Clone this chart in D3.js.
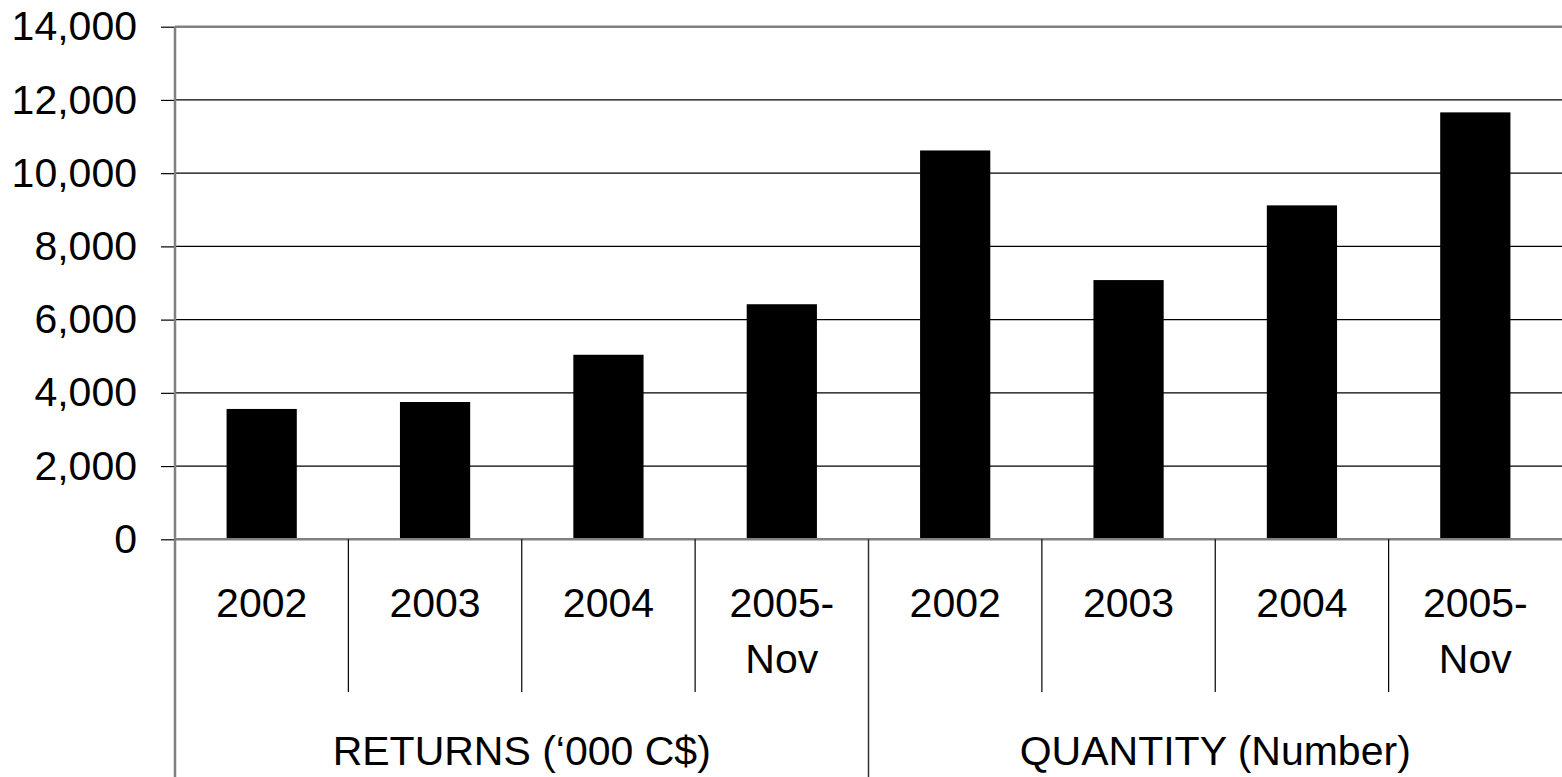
<!DOCTYPE html>
<html>
<head>
<meta charset="utf-8">
<script src="https://cdn.jsdelivr.net/npm/d3@7"></script>
<style>
  html, body { margin: 0; padding: 0; background: #fff; }
  svg { display: block; }
  text { font-family: "Liberation Sans", Arial, sans-serif; fill: #000; }
</style>
</head>
<body>
<svg id="chart" width="1562" height="777"></svg>
<script>
// ---- data ----
const groups = ["RETURNS (\u2018000 C$)", "QUANTITY (Number)"];
const periods = ["2002", "2003", "2004", "2005-Nov"];
const returnsValues = [3560, 3750, 5040, 6420];
const quantityValues = [10620, 7080, 9120, 11660];
const yTicks = [0, 2000, 4000, 6000, 8000, 10000, 12000, 14000];

(function () {
// ---- build rows ----
const seriesByGroup = [returnsValues, quantityValues];
const rows = [];
groups.forEach((g, gi) => {
  periods.forEach((p, pi) => {
    rows.push({ key: gi + "|" + p, group: g, period: p, value: seriesByGroup[gi][pi] });
  });
});

// ---- layout ----
const W = 1562, H = 777;
const mLeft = 175, mRight = 1562, mTop = 26.7, mBottom = 539.3;
const fontSize = 41;

const svg = d3.select("#chart");

const x = d3.scaleBand().domain(rows.map(d => d.key)).range([mLeft, mRight]).padding(0);
const xg = d3.scaleBand().domain(groups).range([mLeft, mRight]).padding(0);
const y = d3.scaleLinear().domain([0, 14000]).range([mBottom, mTop]);

const axisGrey = "#808080";

// gridlines
svg.append("g")
  .selectAll("line")
  .data(yTicks.filter(t => t > 0 && t < 14000))
  .join("line")
  .attr("x1", mLeft).attr("x2", mRight)
  .attr("y1", d => y(d)).attr("y2", d => y(d))
  .attr("stroke", "#000").attr("stroke-width", 1.2);

// top border
svg.append("line")
  .attr("x1", mLeft).attr("x2", mRight)
  .attr("y1", y(14000)).attr("y2", y(14000))
  .attr("stroke", axisGrey).attr("stroke-width", 2.5);

// bars
const barW = x.bandwidth() * 0.405;
svg.append("g")
  .selectAll("rect")
  .data(rows)
  .join("rect")
  .attr("x", d => x(d.key) + (x.bandwidth() - barW) / 2)
  .attr("width", barW)
  .attr("y", d => y(d.value))
  .attr("height", d => y(0) - y(d.value))
  .attr("fill", "#000");

// y axis
const yAxis = d3.axisLeft(y)
  .tickValues(yTicks)
  .tickSize(14)
  .tickPadding(24)
  .tickFormat(d3.format(","));
const ya = svg.append("g").attr("transform", `translate(${mLeft},0)`).call(yAxis);
ya.select(".domain").remove();
ya.selectAll(".tick line").attr("stroke", "#000").attr("stroke-width", 1.2);
ya.selectAll(".tick text")
  .attr("font-family", "'Liberation Sans', Arial, sans-serif")
  .attr("font-size", fontSize)
  .attr("fill", "#000");

// left axis line (extends through category area)
svg.append("line")
  .attr("x1", mLeft).attr("x2", mLeft)
  .attr("y1", mTop).attr("y2", H)
  .attr("stroke", axisGrey).attr("stroke-width", 2.5);

// bottom axis line
svg.append("line")
  .attr("x1", mLeft).attr("x2", mRight)
  .attr("y1", mBottom).attr("y2", mBottom)
  .attr("stroke", axisGrey).attr("stroke-width", 2.5);

// inner period dividers
const innerDividers = rows.slice(1).filter((d, i) => (i + 1) % periods.length !== 0);
svg.append("g")
  .selectAll("line")
  .data(innerDividers)
  .join("line")
  .attr("x1", d => x(d.key)).attr("x2", d => x(d.key))
  .attr("y1", mBottom).attr("y2", 692)
  .attr("stroke", "#000").attr("stroke-width", 1.2);

// group dividers
svg.append("g")
  .selectAll("line")
  .data(groups.slice(1))
  .join("line")
  .attr("x1", d => xg(d)).attr("x2", d => xg(d))
  .attr("y1", mBottom).attr("y2", H)
  .attr("stroke", "#333").attr("stroke-width", 1.5);

// period labels
const pl = svg.append("g")
  .selectAll("text")
  .data(rows)
  .join("text")
  .attr("x", d => x(d.key) + x.bandwidth() / 2)
  .attr("y", 616.7)
  .attr("text-anchor", "middle")
  .attr("font-size", fontSize);
pl.each(function(d) {
  const parts = d.period.includes("-") ? [d.period.split("-")[0] + "-", d.period.split("-")[1]] : [d.period];
  const t = d3.select(this);
  parts.forEach((p, i) => {
    t.append("tspan")
      .attr("x", x(d.key) + x.bandwidth() / 2)
      .attr("dy", i === 0 ? 0 : 56.6)
      .text(p);
  });
});

// group labels
svg.append("g")
  .selectAll("text")
  .data(groups)
  .join("text")
  .attr("x", d => xg(d) + xg.bandwidth() / 2)
  .attr("y", 765)
  .attr("text-anchor", "middle")
  .attr("font-size", fontSize)
  .text(d => d);
})();
</script>
</body>
</html>
